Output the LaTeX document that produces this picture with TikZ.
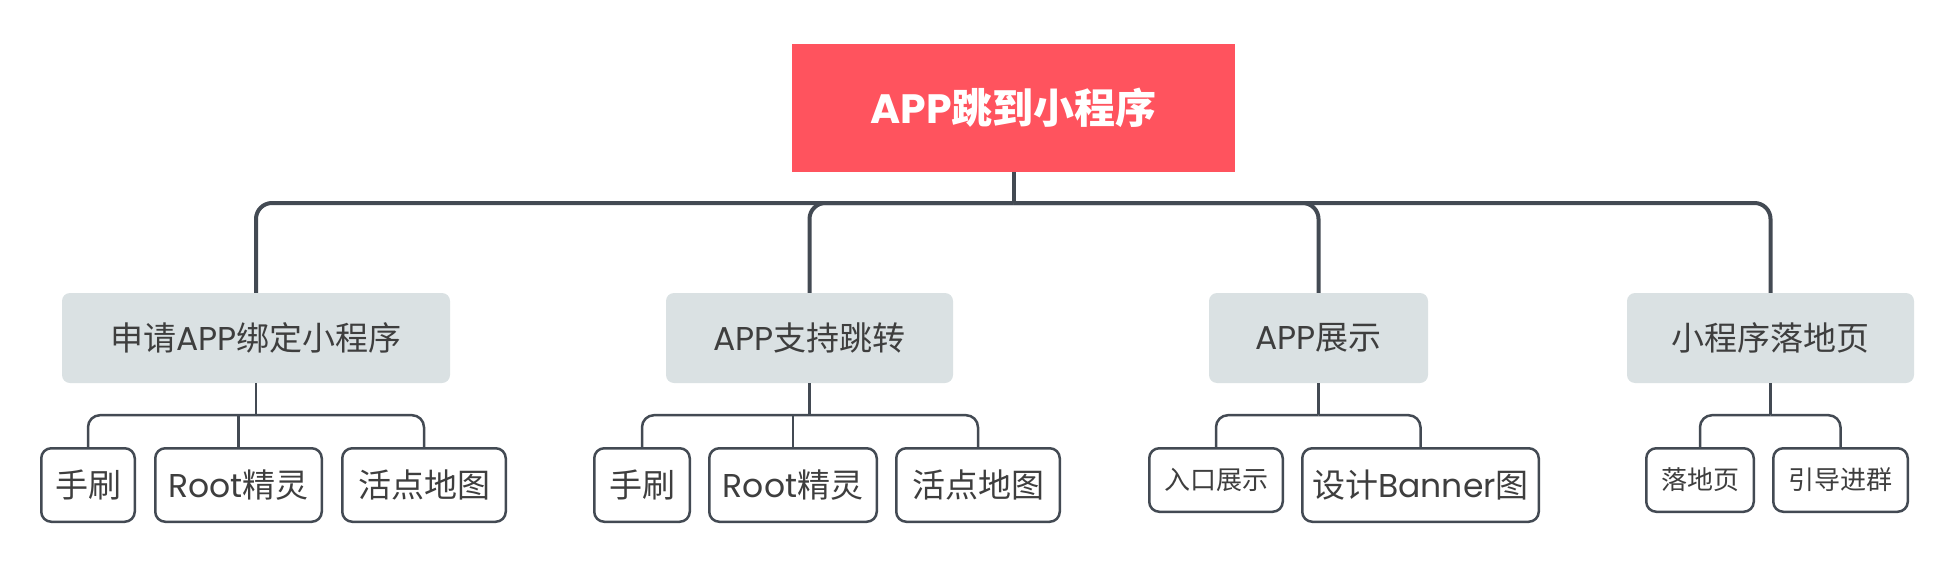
\documentclass[tikz,border=0pt]{standalone}
\usepackage{fontspec}
\setmainfont{Noto Sans CJK SC}
\newfontfamily\lat{Poppins}
\definecolor{rosso}{HTML}{FF535E}
\definecolor{grigio}{HTML}{DAE1E3}
\definecolor{linea}{HTML}{434A53}
\definecolor{testo}{HTML}{3E3E3E}
\tikzset{
	radice/.style={fill=rosso, text=white, font=\fontsize{41}{48}\selectfont\bfseries, minimum height=128pt},
	ramo/.style={fill=grigio, text=testo, rounded corners=8pt, font=\fontsize{33}{40}\selectfont, minimum height=90pt},
	foglia/.style={draw=linea, line width=2.5pt, fill=white, text=testo, rounded corners=10pt, font=\fontsize{33}{40}\selectfont, minimum height=73.5pt},
	fogliapiccola/.style={foglia, font=\fontsize{26}{31}\selectfont, minimum height=63.5pt},
	linea1/.style={draw=linea, line width=4pt, rounded corners=16pt},
	linea2/.style={draw=linea, line width=2.5pt, rounded corners=12pt}
}
\begin{document}
\begin{tikzpicture}[x=1pt, y=1pt]
		\useasboundingbox (0, 0) rectangle (1940, -570);
		% radice
		\node[radice, minimum width=443pt] (root) at (1013.5, -108) {{\lat APP}跳到小程序};
		\coordinate (bar) at (1013.5, -203);
		% primo livello
		\node[ramo, minimum width=388pt] (b1) at (256, -338) {申请{\lat APP}绑定小程序};
		\node[ramo, minimum width=287pt] (b2) at (809.5, -338) {{\lat APP}支持跳转};
		\node[ramo, minimum width=219pt] (b3) at (1318.5, -338) {{\lat APP}展示};
		\node[ramo, minimum width=287pt] (b4) at (1770.5, -338) {小程序落地页};
		% secondo livello
		\node[foglia, minimum width=93.5pt] (l11) at (88, -485) {手刷};
		\node[foglia, minimum width=166.5pt] (l12) at (238.5, -485) {{\lat Root}精灵};
		\node[foglia, minimum width=163.5pt] (l13) at (424, -485) {活点地图};
		\node[foglia, minimum width=95.5pt] (l21) at (642, -485) {手刷};
		\node[foglia, minimum width=167.5pt] (l22) at (793, -485) {{\lat Root}精灵};
		\node[foglia, minimum width=163.5pt] (l23) at (978, -485) {活点地图};
		\node[fogliapiccola, minimum width=133.5pt] (l31) at (1216, -480) {入口展示};
		\node[foglia, minimum width=236.5pt] (l32) at (1420.5, -485) {设计{\lat Banner}图};
		\node[fogliapiccola, minimum width=107.5pt] (l41) at (1700, -480) {落地页};
		\node[fogliapiccola, minimum width=134.5pt] (l42) at (1840.5, -480) {引导进群};
		% collegamenti principali
		\draw[linea1] (root.south) -- (bar);
		\draw[linea1] (bar) -| (b1.north);
		\draw[linea1] (bar) -| (b2.north);
		\draw[linea1] (bar) -| (b3.north);
		\draw[linea1] (bar) -| (b4.north);
		% collegamenti secondari
		\coordinate (j1) at ([yshift=-32pt]b1.south);
		\coordinate (j2) at ([yshift=-32pt]b2.south);
		\coordinate (j3) at ([yshift=-32pt]b3.south);
		\coordinate (j4) at ([yshift=-32pt]b4.south);
		\draw[linea2] (b1.south) -- (j1);
		\draw[linea2] (j1) -| (l11.north);
		\draw[linea2, sharp corners] (j1) -| (l12.north);
		\draw[linea2] (j1) -| (l13.north);
		\draw[linea2] (b2.south) -- (j2);
		\draw[linea2] (j2) -| (l21.north);
		\draw[linea2, sharp corners] (j2) -| (l22.north);
		\draw[linea2] (j2) -| (l23.north);
		\draw[linea2] (b3.south) -- (j3);
		\draw[linea2] (j3) -| (l31.north);
		\draw[linea2] (j3) -| (l32.north);
		\draw[linea2] (b4.south) -- (j4);
		\draw[linea2] (j4) -| (l41.north);
		\draw[linea2] (j4) -| (l42.north);
	\end{tikzpicture}
\end{document}
